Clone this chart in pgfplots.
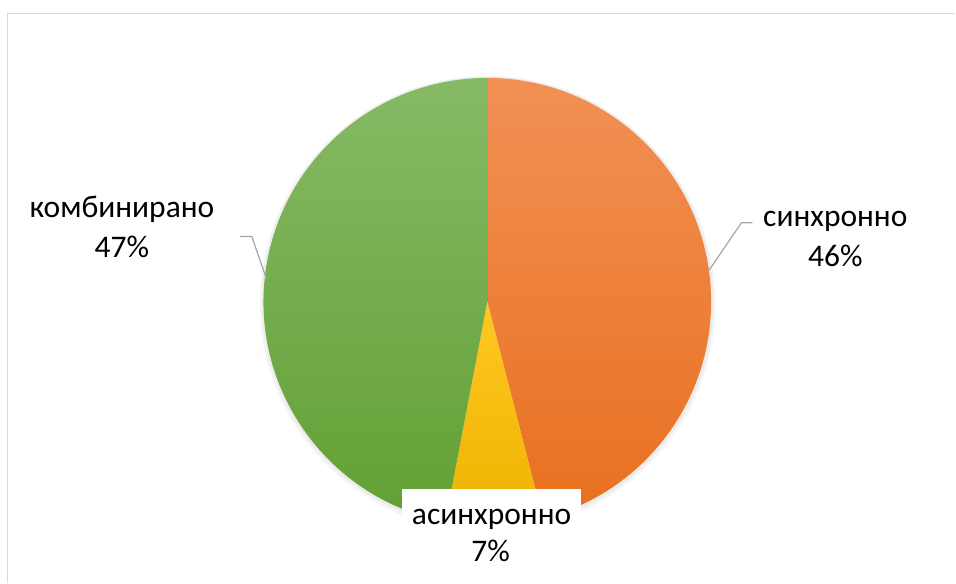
\documentclass[border=0pt]{standalone}
\usepackage{pgfplots}
\pgfplotsset{compat=1.18}
\usepackage{pgfplotstable}
\usepackage{fontspec}
\setmainfont{Carlito}
\definecolor{orangeT}{HTML}{F29055}
\definecolor{orangeM}{HTML}{F57F2B}
\definecolor{orangeB}{HTML}{E8701E}
\definecolor{greenT}{HTML}{86BA66}
\definecolor{greenM}{HTML}{71B142}
\definecolor{greenB}{HTML}{62A033}
\definecolor{yellowT}{HTML}{FFC822}
\definecolor{yellowB}{HTML}{EDB300}
\definecolor{frame}{HTML}{D9D9D9}
\definecolor{leader}{HTML}{A6A6A6}

\pgfplotstableread{
slice value
1 46
2 7
3 47
}\piedata

\pgfplotstablegetelem{0}{value}\of\piedata \let\va\pgfplotsretval
\pgfplotstablegetelem{1}{value}\of\piedata \let\vb\pgfplotsretval
\pgfplotstablegetelem{2}{value}\of\piedata \let\vc\pgfplotsretval
\pgfmathsetmacro{\aone}{90-3.6*\va}
\pgfmathsetmacro{\atwo}{\aone-3.6*\vb}
\pgfmathsetmacro{\athree}{\atwo-3.6*\vc}

\begin{document}
\begin{tikzpicture}
\begin{axis}[
  hide axis, scale only axis,
  width=956pt, height=583pt,
  xmin=0, xmax=956, ymin=0, ymax=583,
  clip=false,
]
% frame (only top and left visible)
\draw[frame, line width=1.6pt] (axis cs:7.5,0) -- (axis cs:7.5,569.5) -- (axis cs:956,569.5);
% soft shadow
\fill[black, opacity=0.04] (axis cs:488,279) circle[radius=228pt];
\fill[black, opacity=0.04] (axis cs:488,280) circle[radius=226pt];
% slices
\shade[top color=orangeT, middle color=orangeM, bottom color=orangeB] (axis cs:487.7,281) -- ++(90:224pt) arc[start angle=90, end angle=\aone, radius=224pt] -- cycle;
\shade[top color=yellowT, bottom color=yellowB] (axis cs:487.7,281) -- ++(\aone:224pt) arc[start angle=\aone, end angle=\atwo, radius=224pt] -- cycle;
\shade[top color=greenT, middle color=greenM, bottom color=greenB] (axis cs:487.7,281) -- ++(\atwo:224pt) arc[start angle=\atwo, end angle=\athree, radius=224pt] -- cycle;
% leader lines
\draw[leader, line width=1.2pt] (axis cs:710,313) -- (axis cs:742,360) -- (axis cs:753,360);
\draw[leader, line width=1.2pt] (axis cs:240,346.3) -- (axis cs:252,346.3) -- (axis cs:267,303);
% label box
\fill[white] (axis cs:402,0) rectangle (axis cs:581,94);
% labels
\node[anchor=base, inner sep=0pt, font=\fontsize{31.5}{37}\selectfont] at (axis cs:836,356) {синхронно};
\node[anchor=base, inner sep=0pt, font=\fontsize{31.5}{37}\selectfont] at (axis cs:836,316) {46\%};
\node[anchor=base, inner sep=0pt, font=\fontsize{31.5}{37}\selectfont] at (axis cs:122,365) {комбинирано};
\node[anchor=base, inner sep=0pt, font=\fontsize{31.5}{37}\selectfont] at (axis cs:122,325) {47\%};
\node[anchor=base, inner sep=0pt, font=\fontsize{31.5}{37}\selectfont] at (axis cs:492,58) {асинхронно};
\node[anchor=base, inner sep=0pt, font=\fontsize{31.5}{37}\selectfont] at (axis cs:491,21) {7\%};
\end{axis}
\useasboundingbox (0,0) rectangle (956pt,583pt);
\end{tikzpicture}
\end{document}
